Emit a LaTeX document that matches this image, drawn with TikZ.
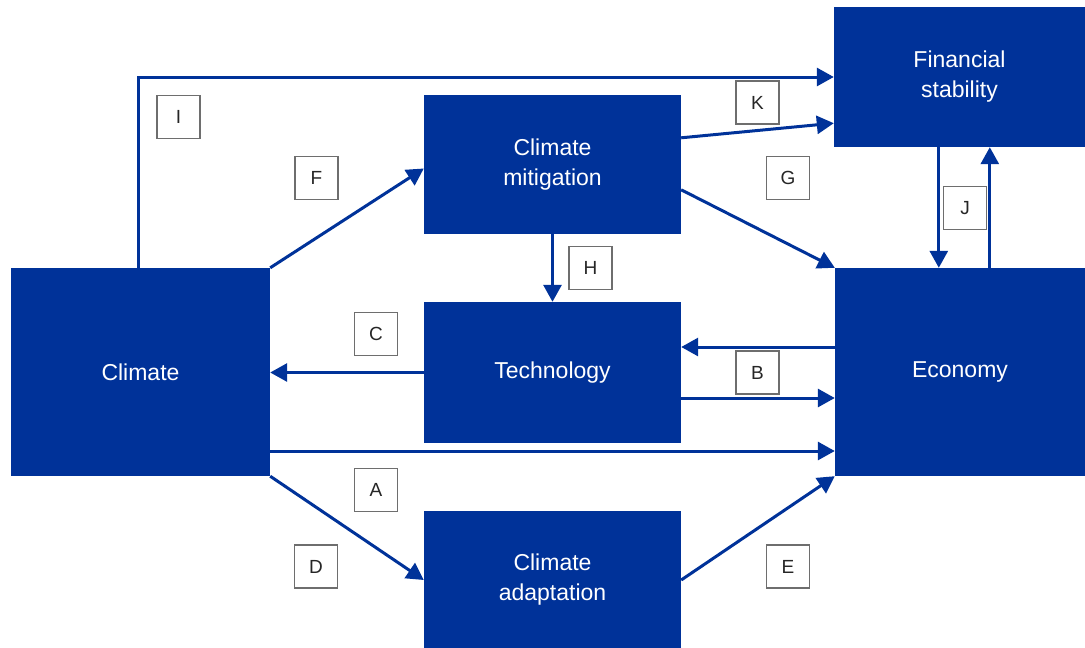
\documentclass[tikz,border=0pt]{standalone}
\usepackage{fontspec}
\setmainfont{Liberation Sans}
\usetikzlibrary{arrows.meta,calc}
\definecolor{ecbblue}{RGB}{0,50,153}
\definecolor{lblgray}{RGB}{110,110,110}
\tikzset{
  blockbox/.style={fill=ecbblue, draw=none, text=white, align=center,
    inner sep=0pt, font=\fontsize{23}{30}\selectfont},
  lbl/.style={draw=lblgray, line width=1.4pt, fill=white, minimum width=43pt,
    minimum height=43pt, inner sep=0pt, font=\fontsize{19}{22}\selectfont, text=black!85},
  arr/.style={draw=ecbblue, line width=3pt, -{Triangle[length=17pt,width=18pt]}}
}
\begin{document}
\begin{tikzpicture}[x=1pt,y=-1pt]
\useasboundingbox (0,0) rectangle (1085,648);
% blocks
\node[blockbox, minimum width=259pt, minimum height=208pt] (clim) at (140.5,372) {Climate};
\node[blockbox, minimum width=257pt, minimum height=139pt] (mit) at (552.5,164.5) {Climate\\mitigation};
\node[blockbox, minimum width=257pt, minimum height=141pt] (tech) at (552.5,372.5) {Technology};
\node[blockbox, minimum width=257pt, minimum height=137pt] (adapt) at (552.5,579.5) {Climate\\adaptation};
\node[blockbox, minimum width=250pt, minimum height=208pt] (econ) at (960,372) {Economy};
\node[blockbox, minimum width=251pt, minimum height=140pt] (fin) at (959.5,77) {Financial\\stability};
% arrows
\draw[arr] ($(clim.north west)+(128,0)$) |- (fin.west);
\draw[arr] (clim.north east) -- ($(mit.west)+(0,4)$);
\draw[arr] ($(mit.north east)+(0,43)$) -- ($(fin.south west)+(0,-24)$);
\draw[arr] ($(mit.north east)+(0,95)$) -- (econ.north west);
\draw[arr] (mit.south) -- (tech.north);
\draw[arr] ($(fin.south west)+(105,0)$) -- ($(econ.north west)+(104,0)$);
\draw[arr] ($(econ.north west)+(155,0)$) -- ($(fin.south west)+(156,0)$);
\draw[arr] (tech.west) -- (tech.west -| clim.east);
\coordinate (bt) at ($(econ.west)+(0,-25)$);
\draw[arr] (bt) -- (bt -| tech.east);
\coordinate (bb) at ($(tech.east)+(0,25.5)$);
\draw[arr] (bb) -- (bb -| econ.west);
\coordinate (aa) at ($(clim.east)+(0,79)$);
\draw[arr] (aa) -- (aa -| econ.west);
\draw[arr] (clim.south east) -- ($(adapt.west)+(0,0.5)$);
\draw[arr] ($(adapt.east)+(0,0.5)$) -- (econ.south west);
% labels
\node[lbl] (lI) at (178.5,117) {I};
\node[lbl] (lF) at (316.5,178) {F};
\node[lbl] (lK) at (757.5,102.5) {K};
\node[lbl] (lG) at (788,178) {G};
\node[lbl] (lH) at (590.5,268) {H};
\node[lbl] (lJ) at (965,208) {J};
\node[lbl] (lC) at (376,334) {C};
\node[lbl] (lB) at (757.5,372.5) {B};
\node[lbl] (lA) at (376,490) {A};
\node[lbl] (lD) at (316,566.5) {D};
\node[lbl] (lE) at (788,566.5) {E};
\end{tikzpicture}
\end{document}
